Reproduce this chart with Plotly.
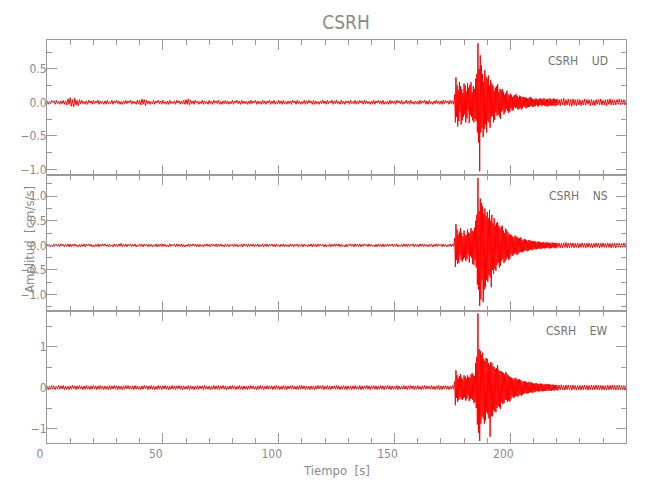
import numpy as np
import plotly.graph_objects as go
from plotly.subplots import make_subplots

# ---------------- data (amplitudes in hundredths of cm/s/s) ----------------
station = "CSRH"
components = ["UD", "NS", "EW"]

# segment 1: 0.0 .. 175.5 s, one value every 0.5 s
ud_pre = [2,-3,1,-2,3,-1,2,-3,3,-2, 1,-3,2,-2,3,-3,2,-4,5,-3, 7,-6,4,-7,6,-4,3,-5,4,-2,
          3,-2,1,-3,2,-3,3,-1,2,-3, 3,-2,2,-1,3,-3,2,-2,1,-3, 2,-3,3,-2,1,-2,3,-3,2,-1,
          3,-2,2,-3,1,-3,2,-2,3,-2, 2,-1,3,-3,2,-2,1,-3,3,-2, 3,-4,5,-3,4,-5,3,-2,2,-3,
          1,-2,3,-3,2,-1,3,-2,2,-3, 3,-2,1,-3,2,-3,3,-2,1,-2, 2,-3,3,-1,2,-3,2,-2,3,-3,
          4,-3,5,-4,3,-2,2,-3,3,-1, 2,-3,1,-2,3,-3,2,-2,1,-3, 3,-2,2,-3,3,-1,2,-2,3,-3,
          1,-3,2,-2,3,-2,2,-3,1,-2, 3,-3,2,-1,3,-2,2,-3,3,-2, 2,-2,1,-3,2,-3,3,-2,2,-1,
          3,-3,2,-2,1,-3,3,-2,2,-3, 2,-1,3,-3,2,-2,3,-3,1,-2, 3,-2,2,-3,3,-2,1,-3,2,-2,
          2,-3,3,-1,2,-3,3,-2,2,-3, 1,-2,3,-3,2,-2,3,-1,2,-3, 3,-3,2,-2,1,-3,2,-2,3,-2,
          2,-3,3,-2,2,-1,3,-3,2,-2, 3,-2,1,-3,3,-2,2,-3,2,-1, 2,-3,3,-2,1,-2,3,-3,2,-2,
          3,-1,2,-3,3,-2,2,-2,1,-3, 2,-2,3,-3,2,-1,3,-2,2,-3, 3,-3,1,-2,2,-3,3,-2,2,-2,
          2,-3,3,-1,2,-2,3,-3,1,-2, 3,-2,2,-3,3,-2,1,-3,2,-2, 2,-3,3,-2,2,-1,3,-3,2,-3,
          3,-2,1,-3,2,-2,3,-2,2,-3, 2,-3,3,-2,3,-1,2,-3,3,-2, 2,-3]
ns_pre = [3,-2,2,-3,1,-3,3,-2,2,-2, 2,-3,3,-1,2,-3,2,-2,3,-3, 3,-3,2,-2,3,-2,1,-3,2,-3,
          2,-2,3,-3,2,-1,3,-2,2,-3, 1,-3,2,-2,3,-3,2,-2,3,-1, 3,-2,2,-3,2,-2,1,-3,3,-2,
          2,-3,3,-2,4,-3,2,-2,3,-3, 2,-1,3,-3,2,-2,3,-3,1,-2, 3,-2,2,-3,3,-1,2,-3,2,-2,
          2,-3,1,-2,3,-3,2,-2,3,-3, 3,-2,2,-3,1,-3,3,-2,2,-1, 2,-3,3,-2,2,-2,3,-3,2,-3,
          1,-2,3,-3,2,-2,3,-1,2,-3, 3,-3,2,-2,1,-3,2,-2,3,-2, 2,-3,3,-1,2,-2,3,-3,2,-2,
          3,-2,1,-3,3,-2,2,-3,2,-1, 2,-3,3,-2,2,-3,1,-2,3,-3, 3,-1,2,-3,3,-2,2,-2,3,-3,
          2,-2,3,-3,1,-2,3,-3,2,-2, 3,-3,2,-1,3,-2,2,-3,3,-2, 1,-3,2,-2,3,-3,2,-2,1,-3,
          3,-2,2,-3,2,-1,3,-3,2,-2, 2,-3,3,-2,1,-3,2,-2,3,-3, 3,-2,2,-3,3,-2,2,-1,2,-3,
          2,-3,1,-2,3,-3,2,-2,3,-2, 3,-2,3,-3,2,-2,1,-3,2,-3, 2,-1,3,-2,2,-3,3,-2,2,-2,
          3,-3,2,-2,3,-1,2,-3,3,-2, 2,-2,1,-3,2,-3,3,-2,2,-3, 3,-3,2,-2,3,-2,2,-1,3,-3,
          2,-2,3,-3,1,-2,2,-3,3,-2, 3,-3,2,-2,2,-1,3,-3,2,-2, 2,-3,3,-2,3,-3,2,-2,1,-3,
          3,-2,2,-3,2,-2,3,-3,2,-1, 2,-3,3,-2,2,-3,1,-2,3,-3, 3,-2]
ew_pre = [4,-5,3,-4,5,-4,4,-5,3,-4, 5,-4,4,-3,5,-5,4,-4,3,-5, 4,-4,5,-3,4,-5,4,-4,5,-3,
          3,-5,4,-4,5,-4,3,-5,4,-4, 5,-3,4,-5,4,-4,5,-4,3,-5, 4,-4,3,-5,5,-4,4,-3,5,-4,
          4,-5,4,-4,3,-5,4,-4,5,-3, 5,-4,3,-4,4,-5,5,-4,4,-4, 3,-5,4,-4,5,-3,4,-5,4,-4,
          5,-4,4,-5,3,-4,5,-4,4,-5, 4,-3,5,-4,4,-5,3,-4,5,-4, 4,-5,4,-3,5,-4,4,-5,4,-4,
          3,-4,5,-5,4,-4,3,-5,4,-4, 5,-4,4,-3,4,-5,5,-4,3,-4, 4,-5,3,-4,5,-4,4,-4,5,-5,
          4,-3,5,-4,4,-5,3,-4,4,-4, 5,-4,4,-5,3,-4,5,-4,4,-5, 4,-4,3,-5,4,-4,5,-3,4,-4,
          3,-5,4,-4,5,-4,4,-5,3,-4, 5,-4,4,-3,4,-5,4,-4,5,-4, 4,-5,3,-4,5,-4,4,-5,4,-3,
          4,-4,5,-4,3,-5,4,-4,5,-4, 5,-3,4,-5,4,-4,3,-5,4,-4, 4,-5,4,-4,5,-3,4,-4,5,-5,
          3,-4,5,-4,4,-5,4,-3,4,-4, 5,-4,4,-5,3,-4,5,-4,4,-5, 4,-4,3,-5,4,-4,5,-4,3,-4,
          5,-5,4,-4,4,-3,5,-4,4,-5, 4,-3,5,-4,4,-5,3,-4,5,-4, 4,-5,4,-3,5,-4,4,-5,4,-4,
          3,-4,5,-5,4,-4,3,-4,5,-4, 4,-5,4,-4,5,-3,4,-5,4,-4, 5,-4,3,-5,4,-4,5,-4,4,-3,
          4,-4,5,-4,3,-5,4,-4,5,-5, 4,-5,4,-3,5,-4,4,-5,3,-4, 5,-4]

# segment 2: 176.00 .. 219.75 s, one value every 0.25 s
ud_evt = [12,-30,37,-22, 25,-36,18,-28, 30,-15,24,-33, 20,-27,14,-22, 28,-18,25,-30,
          16,-24,29,-12, 22,-31,26,-19, 30,-22,15,-27, 24,-30,20,-25, 35,-28,42,-45,
          88,-60,50,-103, 70,-45,55,-38, 42,-52,30,-40, 48,-33,38,-45, 35,-28,40,-30,
          25,-38,33,-22, 28,-20,25,-30, 18,-26,22,-15, 24,-20,27,-18, 15,-22,20,-25,
          18,-14,20,-12, 16,-18,11,-15, 14,-10,17,-13, 12,-16,10,-14, 13,-9,11,-12,
          8,-12,10,-7, 11,-9,12,-8, 9,-11,7,-10, 10,-8,9,-11, 7,-9,8,-6,
          8,-7,6,-9, 7,-8,5,-7, 6,-7,8,-5, 7,-6,5,-7, 5,-6,4,-6,
          6,-4,5,-6, 4,-6,5,-4, 6,-5,4,-5, 5,-4,6,-5, 4,-5,5,-6,
          5,-6,4,-5, 6,-4,5,-5, 4,-5,6,-4, 5,-6,4,-5]
ns_evt = [15,-44,43,-30, 32,-38,22,-35, 28,-20,35,-30, 25,-33,18,-28, 30,-25,22,-32,
          20,-28,33,-18, 26,-35,24,-22, 35,-25,30,-38, 28,-40,36,-30, 50,-45,62,-80,
          137,-90,70,-123, 95,-110,86,-70, 80,-115,65,-90, 75,-85,60,-70, 68,-74,55,-60,
          72,-65,50,-85, 62,-50,45,-58, 55,-48,40,-52, 45,-40,48,-35, 40,-45,35,-42,
          38,-32,40,-28, 30,-36,25,-32, 34,-28,30,-24, 26,-30,22,-27, 22,-18,20,-22,
          18,-20,16,-17, 20,-15,18,-19, 16,-18,14,-15, 15,-13,16,-14, 12,-14,10,-12,
          13,-11,12,-10, 10,-12,9,-11, 11,-9,10,-8, 9,-10,8,-9, 8,-7,9,-8,
          7,-8,6,-7, 8,-6,7,-7, 6,-7,5,-6, 7,-5,6,-6, 5,-6,6,-5,
          6,-5,5,-6, 5,-6,4,-5, 6,-4,5,-5, 5,-5,4,-6]
ew_evt = [15,-43,42,-25, 30,-35,22,-30, 28,-22,33,-28, 24,-30,20,-26, 30,-24,27,-32,
          22,-28,30,-20, 26,-33,24,-28, 32,-26,35,-30, 30,-38,28,-35, 60,-50,75,-90,
          180,-110,94,-130, 90,-88,80,-70, 85,-75,70,-88, 65,-80,72,-60, 70,-65,60,-75,
          55,-120,62,-70, 60,-70,52,-55, 50,-58,45,-60, 48,-50,55,-45, 42,-48,40,-52,
          40,-35,38,-40, 35,-38,32,-30, 38,-30,34,-35, 30,-32,28,-34, 25,-28,24,-22,
          22,-25,20,-24, 24,-20,22,-21, 18,-22,20,-19, 20,-17,18,-20, 15,-17,14,-16,
          16,-14,15,-13, 13,-15,12,-14, 14,-12,13,-11, 12,-13,11,-12, 10,-11,9,-10,
          11,-9,10,-8, 9,-10,8,-9, 10,-8,9,-9, 8,-9,7,-8, 9,-8,8,-7,
          7,-8,8,-7, 8,-7,6,-8, 7,-6,7,-7, 6,-7,6,-6]

# segment 3: 220.0 .. 250.0 s, one value every 0.5 s
ud_tail = [5,-4,4,-5,5,-4,6,-5,4,-4, 5,-5,4,-6,5,-4,4,-5,5,-4, 4,-5,3,-4,5,-4,4,-3,4,-5,
           4,-4,3,-5,4,-3,4,-4,5,-4, 3,-4,4,-5,4,-3,5,-4,4,-4, 3,-4,4,-3,5,-4,4,-3,4,-4, 3]
ns_tail = [5,-4,5,-5,4,-5,5,-4,6,-5, 4,-5,5,-4,5,-5,4,-4,5,-5, 4,-4,5,-4,4,-5,4,-4,5,-4,
           4,-5,4,-4,5,-4,4,-5,4,-4, 5,-4,4,-4,5,-4,4,-5,4,-4, 4,-5,4,-4,5,-4,4,-4,5,-4, 4]
ew_tail = [6,-7,6,-5,7,-6,5,-6,6,-5, 6,-5,5,-6,6,-5,5,-6,5,-5, 5,-6,5,-5,6,-5,5,-6,5,-5,
           6,-5,5,-5,6,-5,5,-6,5,-5, 5,-6,5,-5,6,-5,5,-5,6,-5, 5,-6,5,-5,6,-5,5,-5,5,-6, 5]

seg_starts = [0.0, 176.0, 220.0]   # s
seg_steps = [0.5, 0.25, 0.5]       # s

y_ranges = [[-1.085, 0.93], [-1.33, 1.43], [-1.35, 1.87]]
y_dticks = [0.5, 0.5, 1.0]
y_formats = [".1f", ".1f", "d"]
x_range = [0, 249.9]

# ---------------- figure ----------------
def seg_times(n, start, step):
    return start + np.arange(n) * step

series = []
for pre, evt, tail in [(ud_pre, ud_evt, ud_tail), (ns_pre, ns_evt, ns_tail), (ew_pre, ew_evt, ew_tail)]:
    t = np.concatenate([seg_times(len(pre), seg_starts[0], seg_steps[0]),
                        seg_times(len(evt), seg_starts[1], seg_steps[1]),
                        seg_times(len(tail), seg_starts[2], seg_steps[2])])
    v = np.array(pre + evt + tail, dtype=float) / 100.0
    series.append((t, v))

FONT = "Liberation Sans Narrow, DejaVu Sans Condensed, Arial Narrow, Roboto, sans-serif"
GRAY = "#8a8a8a"
LINE = "#9a9a9a"

fig = make_subplots(rows=3, cols=1, shared_xaxes=True, vertical_spacing=0)

for i, (t, v) in enumerate(series):
    fig.add_trace(go.Scatter(x=t, y=v, mode="lines",
                             line=dict(color="#ff0000", width=1),
                             showlegend=False, hoverinfo="skip"),
                  row=i + 1, col=1)

domains = [[0.665, 1.0], [0.328, 0.665], [0.0, 0.328]]
for i in range(3):
    fig.update_xaxes(range=x_range, tick0=0, dtick=50, ticks="inside", ticklen=10,
                     tickcolor=LINE, showline=True, linecolor=LINE, linewidth=1,
                     mirror="allticks", showgrid=False, zeroline=False, automargin=False,
                     minor=dict(dtick=10, ticks="inside", ticklen=5, tickcolor=LINE),
                     showticklabels=(i == 2), ticklabelshift=-7,
                     tickfont=dict(family=FONT, size=12, color=GRAY),
                     row=i + 1, col=1)
    fig.update_yaxes(range=y_ranges[i], domain=domains[i], tick0=0, dtick=y_dticks[i],
                     tickformat=y_formats[i], ticks="inside", ticklen=10,
                     tickcolor=LINE, showline=True, linecolor=LINE, linewidth=1,
                     mirror="allticks", showgrid=False, zeroline=False, automargin=False,
                     minor=dict(dtick=y_dticks[i] / 2, ticks="inside", ticklen=5, tickcolor=LINE),
                     ticklabelstandoff=-3,
                     tickfont=dict(family=FONT, size=12, color=GRAY),
                     row=i + 1, col=1)

ann_y = [0.948, 0.613, 0.278]
for i, comp in enumerate(components):
    fig.add_annotation(xref="paper", yref="paper", x=0.972, y=ann_y[i],
                       xanchor="right", yanchor="middle", showarrow=False,
                       text=f"{station}&nbsp;&nbsp;&nbsp;&nbsp;{comp}",
                       font=dict(family=FONT, size=12, color="#707070"))

fig.add_annotation(xref="paper", yref="paper", x=0.5, y=-0.067, xanchor="center",
                   yanchor="middle", showarrow=False, text="Tiempo&nbsp;&nbsp;[s]",
                   font=dict(family=FONT, size=13, color=GRAY))
fig.add_annotation(xref="paper", yref="paper", x=-0.029, y=0.504, xanchor="center",
                   yanchor="middle", showarrow=False, textangle=-90,
                   text="Amplitud&nbsp;&nbsp;[cm/s/s]",
                   font=dict(family=FONT, size=13, color=GRAY))

fig.update_layout(
    width=650, height=500,
    margin=dict(l=39, r=32, t=32, b=65),
    paper_bgcolor="white", plot_bgcolor="white",
    title=dict(text=station, x=0.52, xanchor="center", y=0.972, yanchor="middle",
               font=dict(family=FONT, size=19, color=GRAY)),
)

fig.write_html("out.html")
